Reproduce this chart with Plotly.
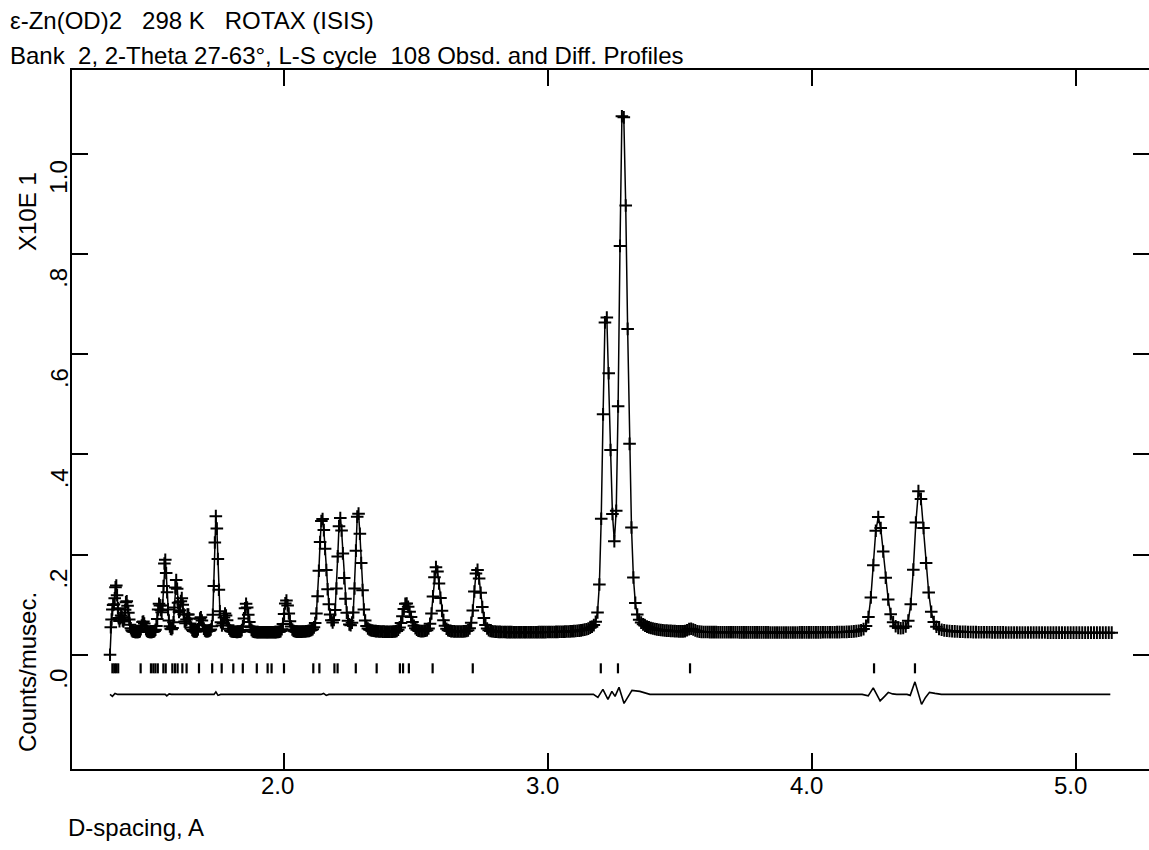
import numpy as np
import plotly.graph_objects as go

# ---------------- values ----------------
# d-spacing grid of the TOF histogram (first / last bin and relative bin width)
D_FIRST = 1.341
D_LAST = 5.130
D_STEP_REL = 0.0022
FIRST_BIN_VALUE = 0.0          # the very first bin reads zero

# flat background level (Counts/musec, x10)
BACKGROUND = 0.044

# observed peaks: position of maximum (d, A), height above background, FWHM (d)
PEAK_D = [1.352, 1.364, 1.383, 1.403, 1.466, 1.527, 1.549, 1.591, 1.612, 1.636,
          1.684, 1.742, 1.777, 1.856, 2.008, 2.144, 2.212, 2.280, 2.462, 2.576,
          2.731, 3.219, 3.283, 3.540, 4.250, 4.405]
PEAK_H = [0.050, 0.088, 0.030, 0.062, 0.022, 0.055, 0.145, 0.103, 0.065, 0.035,
          0.030, 0.232, 0.035, 0.057, 0.064, 0.228, 0.226, 0.240, 0.058, 0.130,
          0.126, 0.635, 1.050, 0.006, 0.230, 0.283]
PEAK_FWHM = [0.012, 0.012, 0.012, 0.016, 0.014, 0.016, 0.015, 0.014, 0.014, 0.015,
             0.014, 0.016, 0.016, 0.018, 0.020, 0.030, 0.026, 0.024, 0.034, 0.030,
             0.030, 0.033, 0.036, 0.030, 0.048, 0.046]

# reflection tick marks (d, A)
REFLECTIONS = [1.350, 1.357, 1.364, 1.372, 1.457, 1.496, 1.505, 1.513, 1.522,
               1.543, 1.552, 1.577, 1.587, 1.597, 1.615, 1.631, 1.678, 1.728,
               1.764, 1.808, 1.844, 1.897, 1.938, 1.953, 2.000, 2.111, 2.134,
               2.191, 2.203, 2.272, 2.351, 2.439, 2.451, 2.473, 2.563, 2.715,
               3.200, 3.265, 3.538, 4.235, 4.390]
TICK_TOP = -0.017
TICK_BOTTOM = -0.037

# difference curve (obs - calc), drawn around an offset baseline
DIFF_OFFSET = -0.079
DIFF_D = [1.341, 1.350, 1.360, 1.370, 1.550, 1.556, 1.565, 1.573, 1.735, 1.742,
          1.750, 1.760, 2.140, 2.150, 2.160, 2.170, 3.150, 3.172, 3.189, 3.208,
          3.227, 3.242, 3.254, 3.269, 3.288, 3.318, 3.348, 3.386, 4.190, 4.213,
          4.232, 4.258, 4.275, 4.289, 4.305, 4.321, 4.360, 4.372, 4.390, 4.415,
          4.430, 4.445, 4.466, 4.490, 5.130]
DIFF_V = [0.000, -0.004, 0.002, 0.000, 0.000, -0.003, 0.001, 0.000, 0.000, 0.005,
          -0.002, 0.000, 0.000, 0.002, -0.002, 0.000, 0.000, 0.000, -0.006, 0.010,
          -0.010, 0.006, -0.004, 0.014, -0.018, 0.008, 0.006, 0.000, 0.000, -0.003,
          0.013, -0.013, -0.004, 0.004, 0.001, 0.000, 0.000, -0.002, 0.025, -0.020,
          -0.006, 0.004, 0.002, 0.000, 0.000]

X_TICKS = [2.0, 3.0, 4.0, 5.0]
X_TICK_LABELS = ["2.0", "3.0", "4.0", "5.0"]
Y_TICKS = [0.0, 0.2, 0.4, 0.6, 0.8, 1.0]
Y_TICK_LABELS = [".0", ".2", ".4", ".6", ".8", "1.0"]

TITLE_1 = "\u03b5-Zn(OD)2\u00a0\u00a0\u00a0298 K\u00a0\u00a0\u00a0ROTAX (ISIS)"
TITLE_2 = "Bank\u00a0\u00a02, 2-Theta 27-63\u00b0, L-S cycle\u00a0\u00a0108 Obsd. and Diff. Profiles"
X_TITLE = "D-spacing, A"
Y_TITLE_TOP = "X10E 1"
Y_TITLE_BOTTOM = "Counts/musec."

X_RANGE = [1.197, 5.2765]
Y_RANGE = [-0.2279, 1.1669]

# ---------------- build profile ----------------
n = int(round(np.log(D_LAST / D_FIRST) / np.log(1 + D_STEP_REL))) + 1
d = D_FIRST * (1 + D_STEP_REL) ** np.arange(n)


def peak(x, c, h, fwhm, eta=0.2):
    wl = 0.42 * fwhm
    wr = 0.58 * fwhm
    w = np.where(x < c, wl, wr)
    r2 = ((x - c) / w) ** 2
    return h * (eta / (1 + r2) + (1 - eta) * np.exp(-np.log(2) * r2))


calc = np.full_like(d, BACKGROUND)
for c, h, fw in zip(PEAK_D, PEAK_H, PEAK_FWHM):
    calc += peak(d, c, h, fw)
calc[0] = FIRST_BIN_VALUE

# reflection tick segments
tx, ty = [], []
for r in REFLECTIONS:
    tx += [r, r, None]
    ty += [TICK_TOP, TICK_BOTTOM, None]

diff_y = [DIFF_OFFSET + v for v in DIFF_V]

FONT = "Liberation Sans, Arial, sans-serif"

fig = go.Figure()
fig.add_trace(go.Scatter(x=DIFF_D, y=diff_y, mode="lines",
                         line=dict(color="black", width=1.6), showlegend=False))
fig.add_trace(go.Scatter(x=tx, y=ty, mode="lines",
                         line=dict(color="black", width=2.2), showlegend=False))
fig.add_trace(go.Scatter(x=d, y=calc, mode="lines",
                         line=dict(color="black", width=1.5), showlegend=False))
fig.add_trace(go.Scatter(x=d, y=calc, mode="markers",
                         marker=dict(symbol="cross-thin-open", size=9, color="black",
                                     line=dict(color="black", width=2)),
                         showlegend=False))
# invisible trace to anchor the right-hand tick axis
fig.add_trace(go.Scatter(x=[X_RANGE[0]], y=[0], yaxis="y2", mode="markers",
                         marker=dict(opacity=0), showlegend=False, hoverinfo="skip"))

ann = []
for v, t in zip(X_TICKS, X_TICK_LABELS):
    ann.append(dict(x=v, xref="x", y=0, yref="paper", text=t, showarrow=False,
                    xanchor="center", yanchor="middle", xshift=-6, yshift=-16.5,
                    font=dict(family=FONT, size=24, color="black")))
for v, t in zip(Y_TICKS, Y_TICK_LABELS):
    ann.append(dict(x=0, xref="paper", y=v, yref="y", text=t, showarrow=False,
                    textangle=-90, xanchor="center", yanchor="middle",
                    xshift=-13, yshift=-24,
                    font=dict(family=FONT, size=24, color="black")))
ann.append(dict(x=0, xref="paper", y=1 - (212 - 70) / 699, yref="paper", text=Y_TITLE_TOP,
                showarrow=False, textangle=-90, xanchor="center", yanchor="middle",
                xshift=-45, font=dict(family=FONT, size=24, color="black")))
ann.append(dict(x=0, xref="paper", y=1 - (672 - 70) / 699, yref="paper", text=Y_TITLE_BOTTOM,
                showarrow=False, textangle=-90, xanchor="center", yanchor="middle",
                xshift=-45, font=dict(family=FONT, size=24, color="black")))
ann.append(dict(x=0, xref="paper", y=1 - (827 - 70) / 699, yref="paper", text=X_TITLE,
                showarrow=False, xanchor="left", yanchor="middle", xshift=-6,
                font=dict(family=FONT, size=24, color="black")))
ann.append(dict(x=0, xref="paper", y=1 + (70 - 20) / 699, yref="paper", text=TITLE_1,
                showarrow=False, xanchor="left", yanchor="middle", xshift=-64,
                font=dict(family=FONT, size=24, color="black")))
ann.append(dict(x=0, xref="paper", y=1 + (70 - 56) / 699, yref="paper", text=TITLE_2,
                showarrow=False, xanchor="left", yanchor="middle", xshift=-64,
                font=dict(family=FONT, size=24, color="black")))

fig.update_layout(
    width=1149, height=850,
    margin=dict(l=72, r=0, t=70, b=81),
    paper_bgcolor="white", plot_bgcolor="white",
    showlegend=False,
    annotations=ann,
    xaxis=dict(range=X_RANGE, tickvals=X_TICKS, showticklabels=False,
               ticks="inside", ticklen=16, tickwidth=2, tickcolor="black",
               showline=True, linecolor="black", linewidth=2, mirror="ticks",
               showgrid=False, zeroline=False),
    yaxis=dict(range=Y_RANGE, tickvals=Y_TICKS, showticklabels=False,
               ticks="inside", ticklen=16, tickwidth=2, tickcolor="black",
               showline=True, linecolor="black", linewidth=2, mirror=False,
               showgrid=False, zeroline=False),
    yaxis2=dict(range=Y_RANGE, tickvals=Y_TICKS, showticklabels=False, overlaying="y",
                side="right", ticks="inside", ticklen=16, tickwidth=2, tickcolor="black",
                showline=False, linecolor="rgba(0,0,0,0)", linewidth=0,
                showgrid=False, zeroline=False),
)

fig.write_html("out.html", config={"displayModeBar": False})
